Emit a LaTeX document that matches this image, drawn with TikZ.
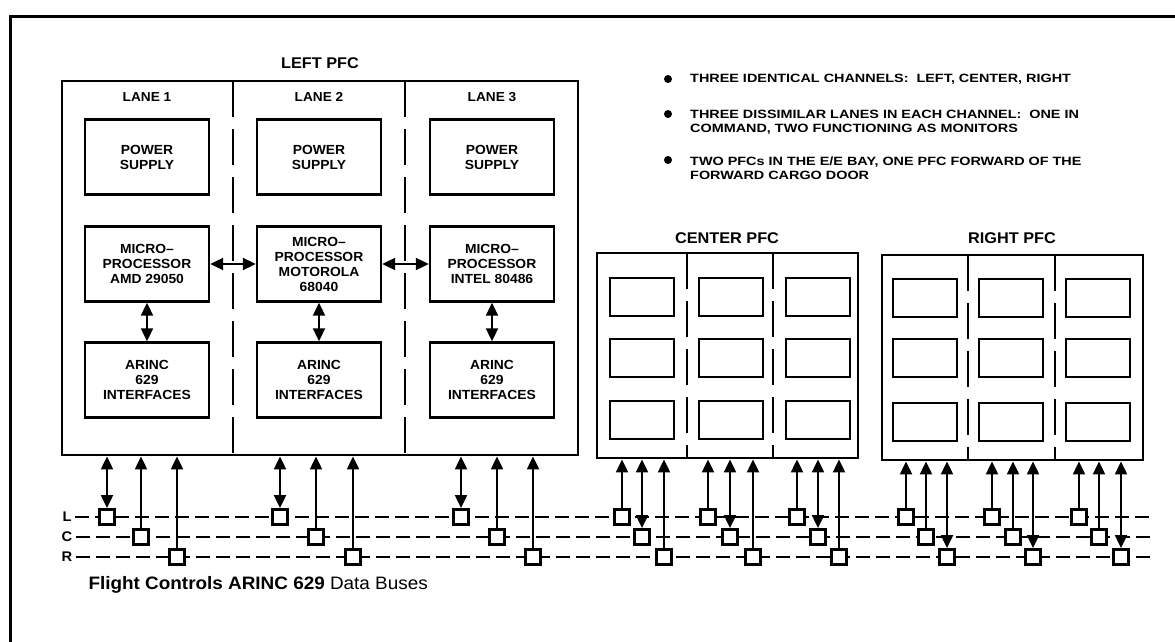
\documentclass[tikz,border=0pt]{standalone}
\usepackage{fontspec}
\setmainfont{Liberation Sans}[FakeStretch=1.05]
\newfontfamily\notefont{Liberation Sans}[FakeStretch=1.2]
\usetikzlibrary{arrows.meta,positioning}

\begin{document}
\begin{tikzpicture}[x=1pt,y=-1pt, every node/.style={font=\bfseries},
  pfc/.style={draw,line width=2.8pt,inner sep=0},
  blk/.style={draw,line width=2.4pt,align=center,minimum width=124pt,minimum height=75pt,
    font=\bfseries\fontsize{13.2}{15}\selectfont},
  cell/.style={draw,line width=2.8pt,minimum width=64pt,minimum height=38pt},
  sq/.style={draw,line width=2.8pt,fill=white,minimum size=15pt,inner sep=0},
  lanesep/.style={line width=1.5pt,dash pattern=on 36pt off 12pt},
  bus/.style={line width=2.4pt,dash pattern=on 14pt off 6pt},
  ar/.style={line width=2pt,-{Triangle[length=13pt,width=12pt]}},
  dar/.style={line width=2pt,{Triangle[length=13pt,width=12pt]}-{Triangle[length=13pt,width=12pt]}},
  ttl/.style={font=\bfseries\fontsize{15.5}{18}\selectfont},
  lanelbl/.style={font=\bfseries\fontsize{13}{15}\selectfont},
  note/.style={anchor=west,align=left,inner sep=0,font=\notefont\bfseries\fontsize{12}{14.5}\selectfont},
  bdot/.style={circle,fill,inner sep=0,minimum size=8pt},
  buslbl/.style={font=\bfseries\fontsize{14}{16}\selectfont}]
  \useasboundingbox (0,0) rectangle (1175,642);
  \draw[line width=3pt] (10,642) -- (10,17) -- (1175,17);

  % left channel
  \node[ttl] (lt) at (320,63) {LEFT PFC};
  \node[pfc,minimum width=516pt,minimum height=374pt] (lpfc) at (320,268) {};
  \draw[lanesep] (233,81) -- (233,455);
  \draw[lanesep] (405,81) -- (405,455);
  \node[lanelbl] (ln1) at (147,97) {LANE 1};
  \node[lanelbl] (ln2) at (319,97) {LANE 2};
  \node[lanelbl] (ln3) at (492,97) {LANE 3};
  \node[blk] (mp1) at (147,264) {MICRO--\\PROCESSOR\\AMD 29050};
  \node[blk] (mp2) at (319,264) {MICRO--\\PROCESSOR\\MOTOROLA\\68040};
  \node[blk] (mp3) at (492,264) {MICRO--\\PROCESSOR\\INTEL 80486};
  \foreach \i/\x in {1/147,2/319,3/492} {
    \node[blk] (ps\i) at (\x,157) {POWER\\SUPPLY};
    \node[blk] (ai\i) at (\x,380) {ARINC\\629\\INTERFACES};
    \draw[dar] (mp\i) -- (ai\i);
  }
  \draw[dar] (mp1) -- (mp2);
  \draw[dar] (mp2) -- (mp3);

  % center and right channels
  \node[ttl] (ct) at (727,238) {CENTER PFC};
  \node[pfc,minimum width=261pt,minimum height=205pt] (cpfc) at (727.5,355.5) {};
  \draw[lanesep] (687,253) -- (687,458);
  \draw[lanesep] (773,253) -- (773,458);
  \foreach \x [count=\i] in {642,731,818}
    \foreach \y [count=\j] in {297,358,420}
      \node[cell] (c\i\j) at (\x,\y) {};
  \node[ttl] (rt) at (1012,238) {RIGHT PFC};
  \node[pfc,minimum width=261pt,minimum height=205pt] (rpfc) at (1012.5,357.5) {};
  \draw[lanesep] (968,255) -- (968,460);
  \draw[lanesep] (1055,255) -- (1055,460);
  \foreach \x [count=\i] in {925,1011,1098}
    \foreach \y [count=\j] in {298,358,422}
      \node[cell] (r\i\j) at (\x,\y) {};

  % notes
  \node[bdot] (b1) at (668,79) {};
  \node[note] (t1) at (690,79) {THREE IDENTICAL CHANNELS:\ \ LEFT, CENTER, RIGHT};
  \node[bdot] (b2) at (668,114) {};
  \node[note] (t2) at (690,122) {THREE DISSIMILAR LANES IN EACH CHANNEL:\ \ ONE IN\\COMMAND, TWO FUNCTIONING AS MONITORS};
  \node[bdot] (b3) at (668,160) {};
  \node[note] (t3) at (690,168) {TWO PFCs IN THE E/E BAY, ONE PFC FORWARD OF THE\\FORWARD CARGO DOOR};

  % data buses
  \node[buslbl] (nL) at (67,517) {L};
  \node[buslbl] (nC) at (67,537) {C};
  \node[buslbl] (nR) at (67,557) {R};
  \coordinate (eL) at (1150,517);
  \coordinate (eC) at (1150,537);
  \coordinate (eR) at (1150,557);
  \draw[bus] (nL) -- (eL);
  \draw[bus] (nC) -- (eC);
  \draw[bus] (nR) -- (eR);
  \foreach \xl/\xc/\xr/\g in {107/141/177/1,280/316/353/2,461/497/533/3,
      622/642/664/4,708/730/753/5,797/818/839/6,
      906/926/947/7,992/1013/1033/8,1079/1099/1121/9} {
    \node[sq] (L\g) at (\xl,517) {};
    \node[sq] (C\g) at (\xc,537) {};
    \node[sq] (R\g) at (\xr,557) {};
  }
  \foreach \g in {1,2,3} {
    \draw[dar] (L\g) -- (L\g |- lpfc.south);
    \draw[ar] (C\g) -- (C\g |- lpfc.south);
    \draw[ar] (R\g) -- (R\g |- lpfc.south);
  }
  \foreach \g in {4,5,6} {
    \draw[ar] (L\g) -- (L\g |- cpfc.south);
    \draw[dar] (C\g) -- (C\g |- cpfc.south);
    \draw[ar] (R\g) -- (R\g |- cpfc.south);
  }
  \foreach \g in {7,8,9} {
    \draw[ar] (L\g) -- (L\g |- rpfc.south);
    \draw[ar] (C\g) -- (C\g |- rpfc.south);
    \draw[dar] (R\g) -- (R\g |- rpfc.south);
  }
  \node[anchor=west,font=\bfseries\fontsize{18}{21}\selectfont] (cap) at (85,585)
    {Flight Controls ARINC 629 {\mdseries Data Buses}};
\end{tikzpicture}
\end{document}
